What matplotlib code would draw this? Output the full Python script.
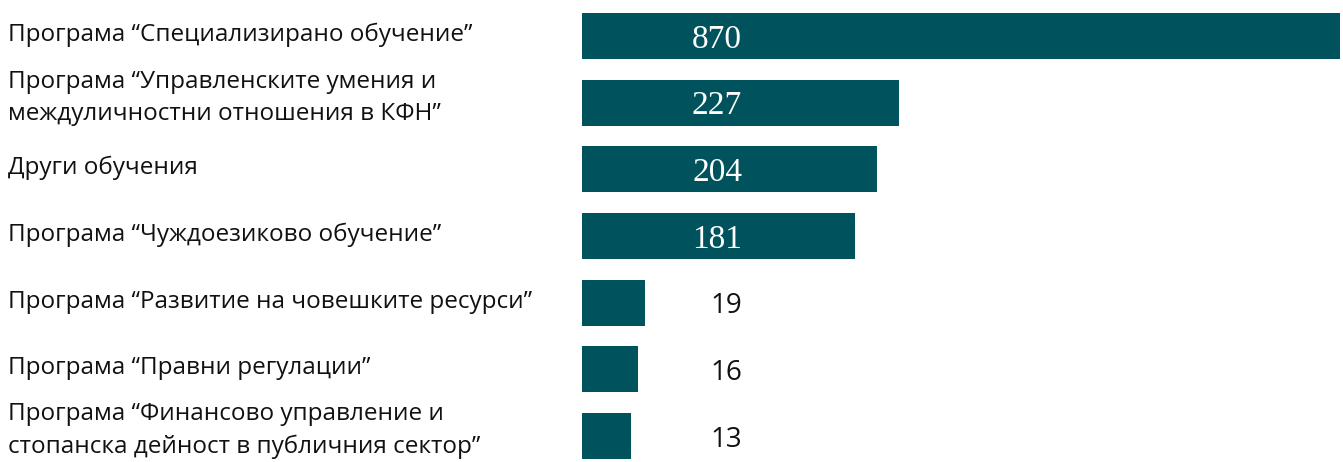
import matplotlib.pyplot as plt
import numpy as np

# training programmes and number of participants
programs = [
    'Програма “Специализирано обучение”',
    'Програма “Управленските умения и\nмеждуличностни отношения в КФН”',
    'Други обучения',
    'Програма “Чуждоезиково обучение”',
    'Програма “Развитие на човешките ресурси”',
    'Програма “Правни регулации”',
    'Програма “Финансово управление и\nстопанска дейност в публичния сектор”',
]
participants = [870, 227, 204, 181, 19, 16, 13]

bar_color = '#00535c'
label_font = ['Open Sans', 'DejaVu Sans']
W, H = 1343, 462

fig = plt.figure(figsize=(W / 100, H / 100), dpi=100)
ax = fig.add_axes([582 / W, 0, 758 / W, 1])

# compressed x scale so the small programmes stay visible
p = 0.65
ax.set_xscale('function', functions=(lambda v: np.power(np.clip(v, 0, None), p),
                                     lambda v: np.power(np.clip(v, 0, None), 1 / p)))

y = np.arange(len(programs))
ax.barh(y, participants, height=0.69, color=bar_color, left=0)
ax.set_xlim(0, max(participants))
step = 66.67
ax.set_ylim((H - 36) / step, -36 / step)
ax.axis('off')

for yi, name, val in zip(y, programs, participants):
    # category label at the left edge of the figure
    # (baseline alignment uses the last line of a wrapped label)
    dy = -17 if '\n' in name else -5
    ax.annotate(name, xy=(0, yi), xytext=(-574, dy), textcoords='offset pixels',
                ha='left', va='baseline', fontsize=17.5, family=label_font,
                color='#111111', linespacing=1.45, annotation_clip=False)
    # value: white serif inside the long bars, dark sans next to the short ones
    if val > 100:
        ax.annotate(str(val), xy=(0, yi), xytext=(160, -11.5), textcoords='offset pixels',
                    ha='right', va='baseline', fontsize=24, family='Liberation Serif',
                    color='white')
    else:
        ax.annotate(str(val), xy=(0, yi), xytext=(160, -10.5), textcoords='offset pixels',
                    ha='right', va='baseline', fontsize=20, family=label_font,
                    color='#111111')

fig.savefig('out.png', dpi=100)
